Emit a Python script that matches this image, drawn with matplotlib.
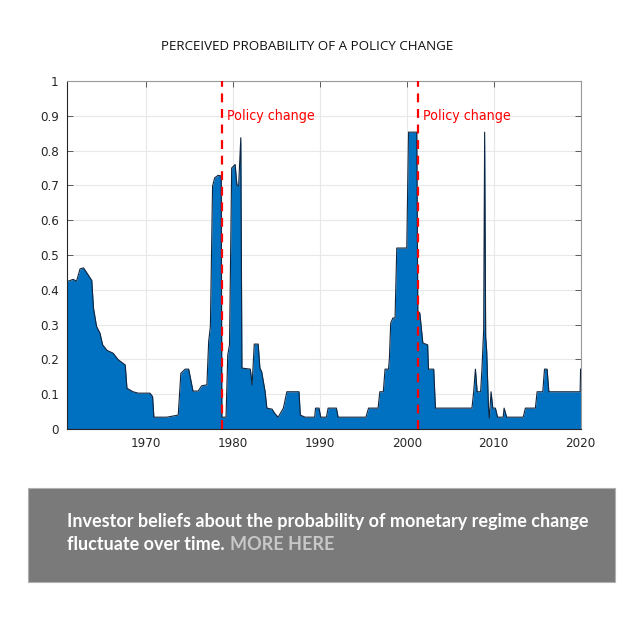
# coding: utf-8

import numpy as np
from matplotlib import pyplot as plt
from matplotlib.patches import Rectangle

# 読み取った系列（年, 確率）
years = [
    1960.95, 1961.6, 1962.0, 1962.4, 1962.8, 1963.2, 1963.75, 1963.95, 1964.3, 1964.7,
    1965.0, 1965.5, 1966.2, 1966.8, 1967.6, 1967.8, 1968.5, 1969.1, 1970.45, 1970.75,
    1970.9, 1972.4, 1973.7, 1974.0, 1974.5, 1974.9, 1975.15, 1975.4, 1976.0, 1976.4,
    1977.0, 1977.2, 1977.4, 1977.65, 1977.9, 1978.3, 1978.65, 1978.72, 1979.2, 1979.4,
    1979.6, 1979.85, 1980.25, 1980.45, 1980.65, 1980.9, 1981.03, 1982.0, 1982.2, 1982.45,
    1982.9, 1983.1, 1983.3, 1983.7, 1983.9, 1984.5, 1984.8, 1985.2, 1985.8, 1986.2,
    1987.6, 1987.75, 1988.3, 1989.4, 1989.5, 1989.9, 1990.1, 1990.75, 1990.95, 1991.9,
    1992.1, 1995.3, 1995.6, 1996.7, 1996.9, 1997.3, 1997.5, 1997.9, 1998.0, 1998.15,
    1998.4, 1998.65, 1998.85, 2000.0, 2000.2, 2001.15, 2001.27, 2001.5, 2001.85, 2002.4,
    2002.5, 2003.1, 2003.3, 2007.5, 2007.7, 2007.9, 2008.1, 2008.5, 2008.65, 2008.85,
    2008.96, 2009.08, 2009.2, 2009.4, 2009.5, 2009.7, 2009.9, 2010.2, 2010.45, 2011.1,
    2011.2, 2011.5, 2013.4, 2013.65, 2014.8, 2015.0, 2015.65, 2015.85, 2016.15, 2016.35,
    2019.95, 2020.0,
]
probability = [
    0.424, 0.43, 0.425, 0.46, 0.463, 0.448, 0.427, 0.347, 0.295, 0.275,
    0.242, 0.226, 0.218, 0.199, 0.184, 0.117, 0.107, 0.103, 0.103, 0.093,
    0.034, 0.034, 0.04, 0.16, 0.172, 0.172, 0.141, 0.109, 0.109, 0.124,
    0.127, 0.251, 0.295, 0.698, 0.722, 0.729, 0.727, 0.034, 0.034, 0.213,
    0.242, 0.75, 0.76, 0.702, 0.698, 0.837, 0.175, 0.172, 0.127, 0.244,
    0.244, 0.175, 0.165, 0.107, 0.06, 0.057, 0.045, 0.034, 0.06, 0.107,
    0.107, 0.04, 0.034, 0.034, 0.06, 0.06, 0.034, 0.034, 0.06, 0.06,
    0.034, 0.034, 0.06, 0.06, 0.107, 0.107, 0.172, 0.172, 0.203, 0.304,
    0.319, 0.319, 0.52, 0.52, 0.853, 0.853, 0.338, 0.333, 0.247, 0.242,
    0.172, 0.172, 0.06, 0.06, 0.107, 0.172, 0.107, 0.107, 0.172, 0.285,
    0.853, 0.266, 0.223, 0.064, 0.031, 0.107, 0.06, 0.06, 0.034, 0.034,
    0.06, 0.034, 0.034, 0.06, 0.06, 0.107, 0.107, 0.172, 0.172, 0.107,
    0.107, 0.172,
]

policy_years = [1978.72, 2001.27]
policy_label = 'Policy change'
x_ticks = [1970, 1980, 1990, 2000, 2010, 2020]
y_ticks = [0, 0.1, 0.2, 0.3, 0.4, 0.5, 0.6, 0.7, 0.8, 0.9, 1]
y_tick_labels = ['0', '0.1', '0.2', '0.3', '0.4', '0.5', '0.6', '0.7', '0.8', '0.9', '1']

title = 'PERCEIVED PROBABILITY OF A POLICY CHANGE'
caption_line1 = 'Investor beliefs about the probability of monetary regime change'
caption_line2 = 'fluctuate over time.'
more_text = 'MORE HERE'


def draw():
    fig = plt.figure(figsize=(6.44, 6.2), dpi=100)
    narrow = ['Liberation Sans Narrow', 'DejaVu Sans']

    ax = fig.add_axes([67 / 644, 1 - 429 / 620, (581 - 67) / 644, (429 - 81) / 620])

    # 面グラフ
    ax.fill_between(years, probability, 0, color='#0070C0', linewidth=0, zorder=2)
    ax.plot(years, probability, color='#10253f', linewidth=0.8, zorder=3)

    # 政策変更の線
    for py in policy_years:
        ax.axvline(py, color='#ff0000', linestyle=(0, (4, 3)), linewidth=1.6, zorder=4)
        ax.text(py + 0.55, 0.90, policy_label, color='#ff0000', fontsize=10.2,
                family=narrow, fontstretch='condensed', va='center', ha='left', zorder=5)

    # 軸の見た目
    ax.set_xlim(1960.9, 2020.05)
    ax.set_ylim(0, 1)
    ax.set_xticks(x_ticks)
    ax.set_xticklabels([str(x) for x in x_ticks])
    ax.set_yticks(y_ticks)
    ax.set_yticklabels(y_tick_labels)
    ax.grid(True, color='#e8e8e8', linewidth=0.8, zorder=0)
    ax.set_axisbelow(True)
    ax.tick_params(direction='in', top=True, right=True, length=4, width=0.6,
                   color='#444444', labelsize=9.5, labelcolor='#262626', pad=6)
    for lab in ax.get_xticklabels() + ax.get_yticklabels():
        lab.set_family(narrow)
        lab.set_fontstretch('condensed')
    for side in ['top', 'right']:
        ax.spines[side].set_color('#999999')
        ax.spines[side].set_linewidth(0.8)
    for side in ['bottom', 'left']:
        ax.spines[side].set_color('#262626')
        ax.spines[side].set_linewidth(0.8)

    # タイトル
    fig.text(307 / 644, 1 - 47 / 620, title, ha='center', va='center',
             fontsize=9.6, family=['Open Sans', 'DejaVu Sans'], color='#111111')

    # 下の灰色の箱
    fig.patches.append(Rectangle((28 / 644, 1 - 582 / 620), (615 - 28) / 644, (582 - 488) / 620,
                                 transform=fig.transFigure, facecolor='#7a7a7a',
                                 edgecolor='#b0b0b0', linewidth=0.8, zorder=0))
    cap_font = dict(fontsize=13, fontweight='bold', family=['Lato', 'DejaVu Sans'])
    fig.text(67 / 644, 1 - 522 / 620, caption_line1, ha='left', va='center',
             color='white', **cap_font)
    t2 = fig.text(67 / 644, 1 - 545 / 620, caption_line2, ha='left', va='center',
                  color='white', **cap_font)
    # 2行目の文末のすぐ後ろに MORE HERE を置く
    renderer = fig.canvas.get_renderer()
    bb = t2.get_window_extent(renderer=renderer)
    fig.text(bb.x1 / fig.bbox.width + 5 / 644, 1 - 545 / 620, more_text, ha='left',
             va='center', color='#c8c8c8', **cap_font)

    fig.savefig('out.png', dpi=100)


def main():
    draw()


if __name__ == "__main__":
    main()
